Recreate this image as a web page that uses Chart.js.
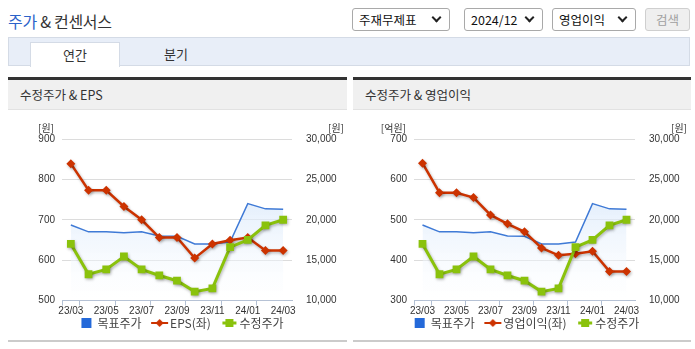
<!DOCTYPE html>
<html>
<head>
<meta charset="utf-8">
<script src="https://cdn.jsdelivr.net/npm/chart.js@4.4.1/dist/chart.umd.min.js"></script>
<style>
  body { margin: 0; width: 695px; height: 349px; overflow: hidden; position: relative; background: #fff;
         font-family: 'Noto Sans CJK KR', 'Noto Sans', sans-serif; color: #333; }
  .abs { position: absolute; }
  .title { left: 8px; top: 9px; font-size: 16px; letter-spacing: -0.3px; }
  .title b { font-weight: normal; color: #2b62c9; }
  .sel { top: 8px; height: 23px; border: 1px solid #a9a9a9; border-radius: 3px; box-sizing: border-box;
         font-size: 12.5px; line-height: 21px; padding-left: 6px; background: #fff; color: #111; }
  .sel i { position: absolute; right: 9px; top: 5px; width: 5px; height: 5px; border-right: 2px solid #222;
           border-bottom: 2px solid #222; transform: rotate(45deg); }
  .btn { left: 645px; top: 8px; width: 45px; height: 23px; border: 1px solid #cfcfcf; border-radius: 3px;
         background: #efefef; color: #a0a0a0; font-size: 12.5px; line-height: 21px; text-align: center; box-sizing: border-box; }
  .tabs { left: 8px; top: 37px; width: 682px; height: 29px; background: #e8eef8; border: 1px solid #d4dbe6; box-sizing: border-box; }
  .tab { top: 42px; height: 25px; font-size: 13px; line-height: 24px; text-align: center; }
  .tab.on { left: 30px; width: 90px; background: #fff; border: 1px solid #d4dbe6; border-bottom: none; box-sizing: border-box; }
  .panel { top: 77px; height: 265px; border-top: 3px solid #333; border-bottom: 2px solid #cbcbcb; box-sizing: border-box; }
  .phead { left: 0; right: 0; top: 0; height: 29px; background: #f0f0f0; border-bottom: 1px solid #e2e2e2;
           font-size: 12.5px; line-height: 30px; padding-left: 12px; }
  canvas { position: absolute; }
</style>
</head>
<body>
<div class="abs title"><b>주가</b> &amp; 컨센서스</div>
<div class="abs sel" style="left:352px;width:98px">주재무제표<i></i></div>
<div class="abs sel" style="left:464px;width:79px">2024/12<i></i></div>
<div class="abs sel" style="left:552px;width:84px">영업이익<i></i></div>
<div class="abs btn">검색</div>
<div class="abs tabs"></div>
<div class="abs tab on">연간</div>
<div class="abs tab" style="left:140px;width:72px">분기</div>

<div class="abs panel" style="left:8px;width:339px"><div class="abs phead">수정주가 &amp; EPS</div></div>
<div class="abs panel" style="left:353px;width:338px"><div class="abs phead">수정주가 &amp; 영업이익</div></div>

<canvas id="c1" width="339" height="227" style="left:8px;top:112px"></canvas>
<canvas id="c2" width="338" height="227" style="left:353px;top:112px"></canvas>

<script>
const months = ['23/03', '23/04', '23/05', '23/06', '23/07', '23/08', '23/09', '23/10', '23/11', '23/12', '24/01', '24/02', '24/03']
const targetPrice = [19350, 18500, 18500, 18400, 18500, 18000, 17950, 17000, 17000, 17250, 22000, 21350, 21300]
const adjPrice = [17000, 13250, 13850, 15450, 13850, 13100, 12450, 11100, 11500, 16600, 17500, 19300, 20000]
const eps = [839, 773, 773, 733, 700, 656, 656, 605, 640, 649, 656, 624, 624]
const opProfit = [640, 567, 567, 555, 512, 490, 470, 430, 412, 416, 422, 372, 372]

const BLUE = '#3f7ad6'
const RED = '#cc3300'
const GREEN = '#8ac20c'
const TICK_FONT = { family: "'Liberation Sans', Arial, sans-serif", size: 10 }

// legend icons: 40px canvas centred on the 20px legend box, content sits just before the text
const legendIcon = (kind) => {
  const c = document.createElement('canvas')
  c.width = 40
  c.height = 12
  const g = c.getContext('2d')
  if (kind === 'box') {
    g.fillStyle = '#2469d9'
    g.fillRect(20, 1, 10, 10)
  } else if (kind === 'diamond') {
    g.strokeStyle = RED
    g.lineWidth = 2
    g.beginPath(); g.moveTo(17, 6); g.lineTo(34, 6); g.stroke()
    g.fillStyle = RED
    g.beginPath(); g.moveTo(25.5, 2); g.lineTo(29.5, 6); g.lineTo(25.5, 10); g.lineTo(21.5, 6); g.closePath(); g.fill()
  } else {
    g.strokeStyle = GREEN
    g.lineWidth = 3
    g.beginPath(); g.moveTo(19, 6); g.lineTo(33, 6); g.stroke()
    g.fillStyle = GREEN
    g.fillRect(22, 2, 8, 8)
  }
  return c
}
const icons = [legendIcon('box'), legendIcon('diamond'), legendIcon('square')]

const lineShadow = {
  id: 'lineShadow',
  beforeDatasetDraw(chart, args) {
    if (args.index === 0) return
    const c = chart.ctx
    c.save()
    c.shadowColor = 'rgba(0,0,0,0.28)'
    c.shadowBlur = 3
    c.shadowOffsetX = 1
    c.shadowOffsetY = 1.5
  },
  afterDatasetDraw(chart, args) {
    if (args.index === 0) return
    chart.ctx.restore()
  },
}

const unitLabels = {
  id: 'unitLabels',
  afterDraw(chart, args, opts) {
    const c = chart.ctx
    const top = chart.chartArea.top - 11
    c.save()
    c.font = "10px 'Noto Sans CJK KR', sans-serif"
    c.fillStyle = '#333'
    c.textBaseline = 'middle'
    c.textAlign = 'right'
    c.fillText(opts.left, chart.scales.yL.right - 8, top)
    c.textAlign = 'left'
    c.fillText(opts.right, chart.scales.yR.left + 36, top)
    c.restore()
  },
}

const areaFill = (ctx) => {
  const area = ctx.chart.chartArea
  if (!area) return 'rgba(220,232,250,0.6)'
  const g = ctx.chart.ctx.createLinearGradient(0, area.top, 0, area.bottom)
  g.addColorStop(0, 'rgba(196,220,250,0.85)')
  g.addColorStop(0.4, 'rgba(218,233,251,0.7)')
  g.addColorStop(1, 'rgba(255,255,255,0.3)')
  return g
}

const makeChart = (id, leftLabel, leftData, leftMin, leftMax, leftUnit, leftW, rightW) => {
  const ctx = document.getElementById(id).getContext('2d')
  return new Chart(ctx, {
    type: 'line',
    plugins: [lineShadow, unitLabels],
    data: {
      labels: months,
      datasets: [
        {
          label: '목표주가',
          data: targetPrice,
          yAxisID: 'yR',
          borderColor: BLUE,
          borderWidth: 1.5,
          backgroundColor: areaFill,
          fill: 'start',
          pointRadius: 0,
          tension: 0,
          order: 3,
        },
        {
          label: leftLabel,
          data: leftData,
          yAxisID: 'yL',
          borderColor: RED,
          borderWidth: 2.5,
          pointStyle: 'rectRot',
          pointRadius: 4.5,
          pointBackgroundColor: RED,
          pointBorderWidth: 0,
          order: 2,
        },
        {
          label: '수정주가',
          data: adjPrice,
          yAxisID: 'yR',
          borderColor: GREEN,
          borderWidth: 3,
          pointStyle: 'rect',
          pointRadius: 5.5,
          pointBackgroundColor: GREEN,
          pointBorderWidth: 0,
          order: 1,
        },
      ],
    },
    options: {
      responsive: false,
      animation: false,
      layout: { padding: { top: 27, left: 0, right: 0, bottom: 0 } },
      plugins: {
        tooltip: { enabled: false },
        unitLabels: { left: leftUnit, right: '[원]' },
        legend: {
          position: 'bottom',
          labels: {
            usePointStyle: true,
            pointStyleWidth: 20,
            boxHeight: 12,
            padding: 2.5,
            color: '#444',
            font: { family: "'Noto Sans CJK KR', sans-serif", size: 12 },
            generateLabels: (chart) =>
              chart.data.datasets.map((ds, i) => ({
                text: ds.label,
                pointStyle: icons[i],
                fillStyle: 'transparent',
                strokeStyle: 'transparent',
                lineWidth: 0,
                hidden: false,
                datasetIndex: i,
                fontColor: '#444',
              })),
          },
        },
      },
      scales: {
        x: {
          offset: true,
          border: { color: '#b3c0d3' },
          grid: {
            drawOnChartArea: false,
            tickLength: 5,
            offset: true,
            color: (c) => (c.index === 0 || c.index % 2 === 1 || c.index === months.length ? '#b3c0d3' : 'transparent'),
          },
          ticks: {
            autoSkip: false,
            maxRotation: 0,
            padding: 0,
            color: '#333',
            font: TICK_FONT,
            callback: (v, i) => (i % 2 === 0 ? months[i] : ''),
          },
          afterFit: (s) => { s.height = 14 },
        },
        yL: {
          position: 'left',
          min: leftMin,
          max: leftMax,
          border: { display: false },
          grid: { color: '#dcdcdc', drawTicks: false },
          ticks: { stepSize: 100, padding: 7, color: '#333', font: TICK_FONT },
          afterFit: (s) => { s.width = leftW },
        },
        yR: {
          position: 'right',
          min: 10000,
          max: 30000,
          border: { display: false },
          grid: { display: false },
          ticks: {
            stepSize: 5000,
            padding: 6,
            color: '#333',
            font: TICK_FONT,
            callback: (v) => v.toLocaleString('en-US'),
          },
          afterFit: (s) => { s.width = rightW },
        },
      },
    },
  })
}

makeChart('c1', 'EPS(좌)', eps, 500, 900, '[원]', 54, 55)
makeChart('c2', '영업이익(좌)', opProfit, 300, 700, '[억원]', 61, 56)
</script>
</body>
</html>
